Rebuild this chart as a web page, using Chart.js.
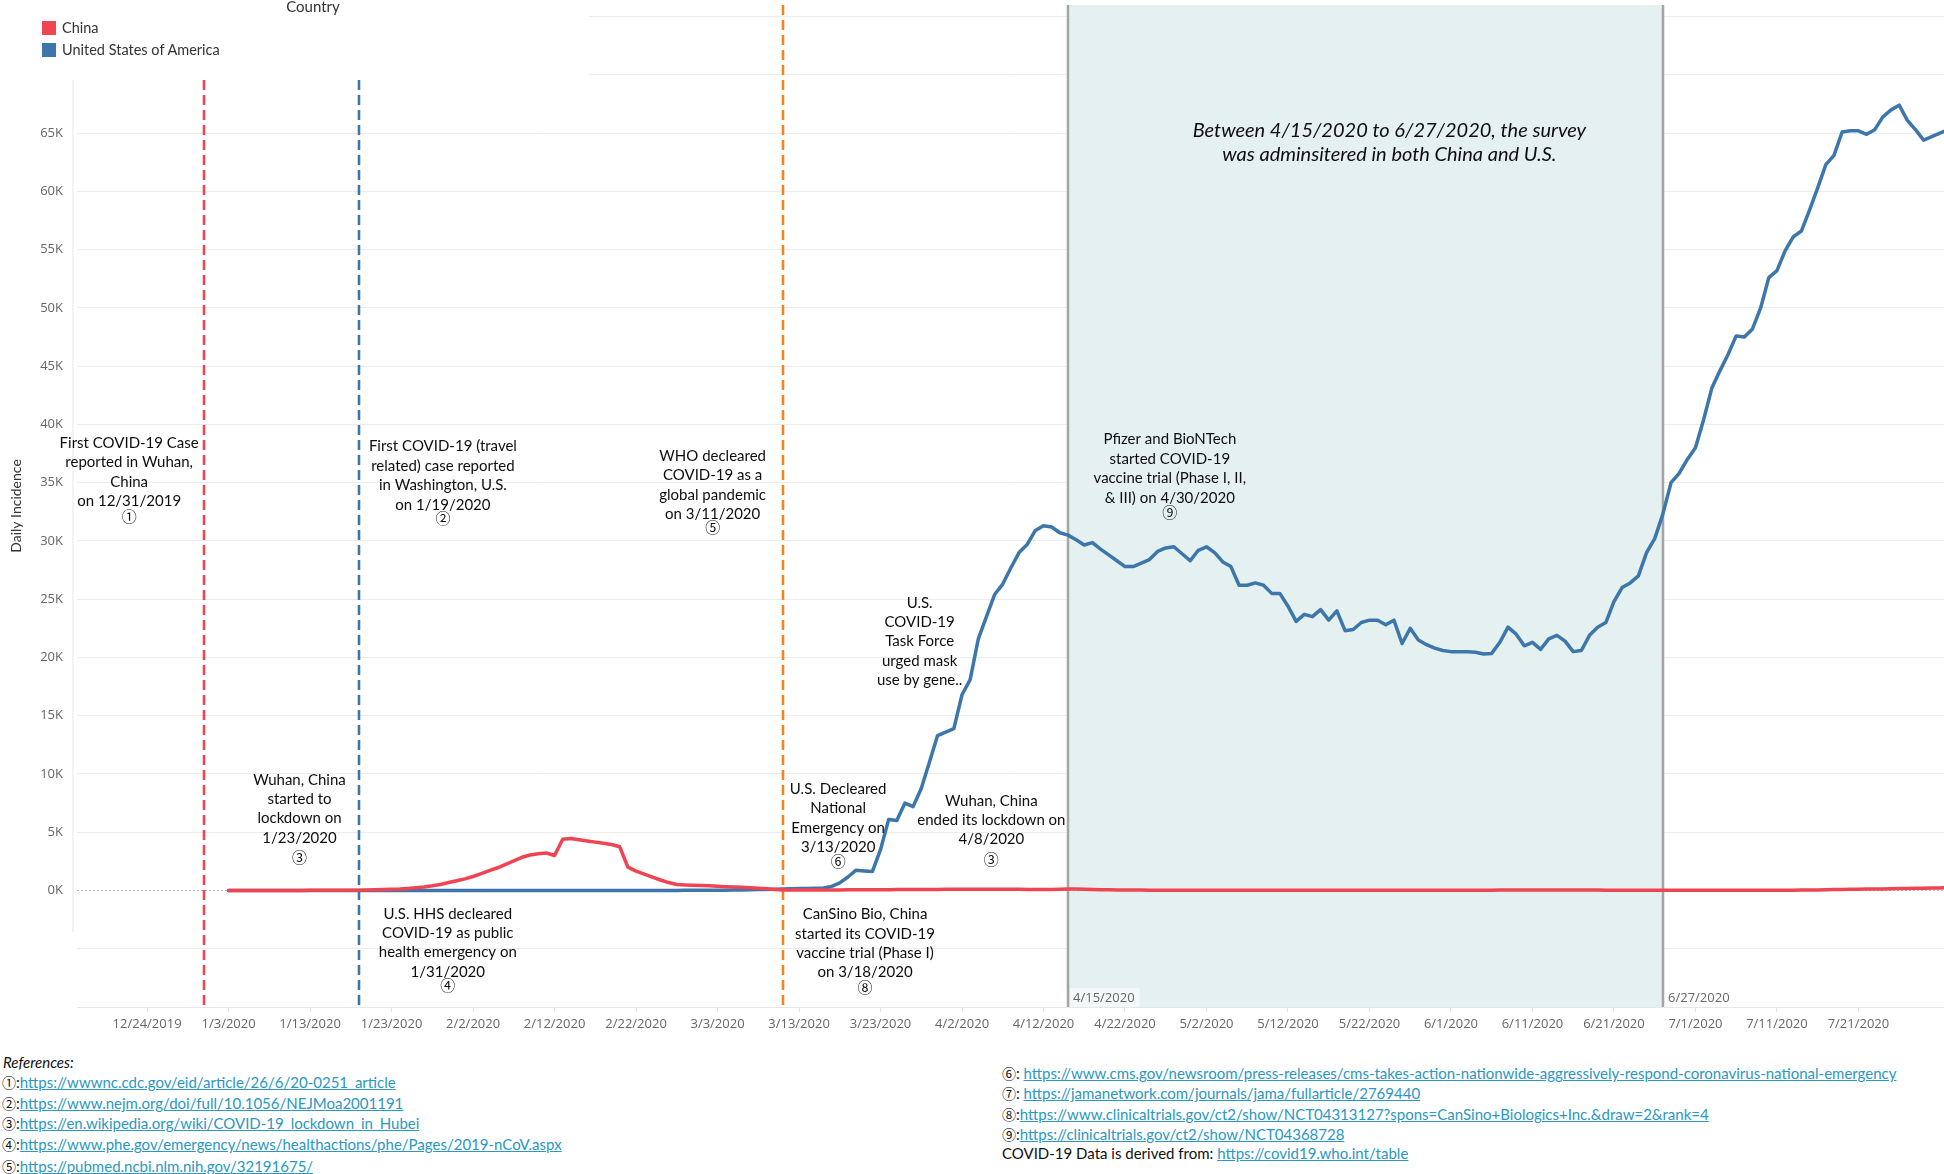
<!DOCTYPE html>
<html>
<head>
<meta charset="utf-8">
<script src="https://cdn.jsdelivr.net/npm/chart.js@4.4.1/dist/chart.umd.min.js"></script>
<style>
  html, body { margin: 0; padding: 0; background: #fff; }
  body { width: 1944px; height: 1174px; position: relative; overflow: hidden; font-family: Lato, "Liberation Sans", sans-serif; }
  #wrap { position: absolute; left: 0; top: 0; width: 1944px; height: 1045px; }
  #legend { position: absolute; left: 0; top: 0; width: 589px; height: 80px; background: #fff; color: #333; }
  #legend .title { position: absolute; left: 0; width: 626px; top: -3px; text-align: center; font-size: 15px; }
  #legend .item { position: absolute; left: 42px; height: 22px; line-height: 22px; font-size: 14.5px; }
  #legend .swatch { display: inline-block; width: 14px; height: 14px; vertical-align: -2px; margin-right: 6px; }
  .ref { position: absolute; height: 20px; line-height: 20px; font-size: 15px; color: #111; white-space: nowrap; }
  .ref u { color: #2b97c2; }
  .ref .num { font-family: "Noto Sans CJK JP"; font-size: 14px; }
</style>
</head>
<body>
<div id="wrap"><canvas id="incidenceChart" width="1944" height="1045"></canvas></div>
<div id="legend"><div class="title">Country</div></div>
<div id="refs"></div>
<script>
// dates are m/d/yyyy, day 0 of the x axis is AXIS_START
const AXIS_START = '12/24/2019';
const START_DATE = '1/3/2020';   // first daily value in both series
const TICK_LABELS = ['12/24/2019', '1/3/2020', '1/13/2020', '1/23/2020', '2/2/2020', '2/12/2020',
    '2/22/2020', '3/3/2020', '3/13/2020', '3/23/2020', '4/2/2020', '4/12/2020', '4/22/2020',
    '5/2/2020', '5/12/2020', '5/22/2020', '6/1/2020', '6/11/2020', '6/21/2020', '7/1/2020',
    '7/11/2020', '7/21/2020'];
const SERIES_NAMES = ['China', 'United States of America'];

// daily incidence, thousands of cases, one value per day from START_DATE
const CHINA_CASES_K = [
    0, 0, 0, 0, 0, 0, 0, 0, 0, 0,
    0.01, 0.01, 0.01, 0.02, 0.02, 0.03, 0.03, 0.04, 0.06, 0.08,
    0.1, 0.13, 0.18, 0.24, 0.3, 0.4, 0.52, 0.68, 0.84, 1.0,
    1.2, 1.45, 1.7, 1.95, 2.25, 2.55, 2.85, 3.05, 3.15, 3.22,
    3.0, 4.4, 4.46, 4.35, 4.25, 4.15, 4.05, 3.95, 3.75, 2.0,
    1.66, 1.4, 1.15, 0.9, 0.68, 0.51, 0.48, 0.45, 0.43, 0.4,
    0.36, 0.33, 0.3, 0.27, 0.23, 0.19, 0.14, 0.09, 0.05, 0.04,
    0.04, 0.04, 0.04, 0.05, 0.05, 0.05, 0.06, 0.06, 0.06, 0.07,
    0.07, 0.07, 0.08, 0.08, 0.08, 0.09, 0.09, 0.09, 0.1, 0.1,
    0.1, 0.1, 0.1, 0.1, 0.11, 0.11, 0.1, 0.1, 0.09, 0.09,
    0.09, 0.08, 0.1, 0.13, 0.12, 0.1, 0.08, 0.07, 0.06, 0.05,
    0.05, 0.04, 0.04, 0.03, 0.03, 0.03, 0.02, 0.02, 0.02, 0.02,
    0.02, 0.02, 0.02, 0.01, 0.01, 0.01, 0.01, 0.01, 0.01, 0.01,
    0.01, 0.01, 0.01, 0.01, 0.01, 0.01, 0.01, 0.01, 0.01, 0.01,
    0.01, 0.01, 0.01, 0.01, 0.01, 0.01, 0.01, 0.02, 0.02, 0.02,
    0.02, 0.02, 0.02, 0.03, 0.03, 0.03, 0.04, 0.04, 0.04, 0.04,
    0.04, 0.04, 0.04, 0.04, 0.04, 0.04, 0.04, 0.04, 0.04, 0.03,
    0.03, 0.03, 0.03, 0.03, 0.03, 0.03, 0.02, 0.02, 0.02, 0.02,
    0.02, 0.02, 0.02, 0.02, 0.02, 0.02, 0.02, 0.02, 0.02, 0.03,
    0.02, 0.03, 0.03, 0.04, 0.05, 0.05, 0.06, 0.08, 0.09, 0.1,
    0.1, 0.12, 0.13, 0.13, 0.15, 0.16, 0.18, 0.19, 0.2, 0.21,
    0.22, 0.23];
const US_CASES_K = [
    0, 0, 0, 0, 0, 0, 0, 0, 0, 0,
    0, 0, 0, 0, 0, 0, 0, 0, 0, 0,
    0, 0, 0, 0, 0, 0, 0, 0, 0, 0,
    0, 0, 0, 0, 0, 0, 0, 0, 0, 0,
    0, 0, 0, 0, 0, 0, 0, 0, 0, 0,
    0, 0, 0, 0, 0, 0, 0.01, 0.01, 0.01, 0.02,
    0.02, 0.03, 0.04, 0.05, 0.06, 0.08, 0.09, 0.1, 0.12, 0.14,
    0.16, 0.18, 0.2, 0.22, 0.35, 0.65, 1.16, 1.74, 1.68, 1.62,
    3.5, 6.1, 6.0, 7.5, 7.2, 8.75, 11.0, 13.3, 13.6, 13.9,
    16.8, 18.1, 21.6, 23.5, 25.4, 26.3, 27.7, 29.0, 29.7, 30.9,
    31.3, 31.2, 30.7, 30.5, 30.1, 29.65, 29.86, 29.3, 28.8, 28.3,
    27.8, 27.8, 28.1, 28.4, 29.1, 29.4, 29.5, 28.9, 28.3, 29.2,
    29.5, 29.0, 28.2, 27.8, 26.2, 26.2, 26.4, 26.2, 25.5, 25.5,
    24.4, 23.1, 23.7, 23.5, 24.1, 23.2, 24.0, 22.3, 22.4, 23.0,
    23.2, 23.2, 22.8, 23.2, 21.2, 22.5, 21.5, 21.1, 20.8, 20.6,
    20.5, 20.5, 20.5, 20.45, 20.3, 20.35, 21.3, 22.6, 22.0, 21.0,
    21.3, 20.7, 21.6, 21.9, 21.4, 20.5, 20.6, 21.9, 22.6, 23.0,
    24.8, 26.0, 26.4, 27.0, 29.0, 30.2, 32.3, 35.0, 35.8, 37.0,
    38.0, 40.4, 43.1, 44.6, 46.0, 47.6, 47.5, 48.2, 50.0, 52.6,
    53.2, 54.9, 56.1, 56.6, 58.4, 60.3, 62.3, 63.1, 65.1, 65.2,
    65.2, 64.9, 65.3, 66.4, 67.0, 67.4, 66.1, 65.3, 64.4, 64.7,
    65.0, 65.3];

const EVENT_DATES = ['12/31/2019', '1/19/2020', '3/11/2020'];
const SURVEY_RANGE = ['4/15/2020', '6/27/2020'];

const REFS_LEFT = [
    ['①', ':', 'https://wwwnc.cdc.gov/eid/article/26/6/20-0251_article'],
    ['②', ':', 'https://www.nejm.org/doi/full/10.1056/NEJMoa2001191'],
    ['③', ':', 'https://en.wikipedia.org/wiki/COVID-19_lockdown_in_Hubei'],
    ['④', ':', 'https://www.phe.gov/emergency/news/healthactions/phe/Pages/2019-nCoV.aspx'],
    ['⑤', ':', 'https://pubmed.ncbi.nlm.nih.gov/32191675/']];
const REFS_RIGHT = [
    ['⑥', ': ', 'https://www.cms.gov/newsroom/press-releases/cms-takes-action-nationwide-aggressively-respond-coronavirus-national-emergency'],
    ['⑦', ': ', 'https://jamanetwork.com/journals/jama/fullarticle/2769440'],
    ['⑧', ':', 'https://www.clinicaltrials.gov/ct2/show/NCT04313127?spons=CanSino+Biologics+Inc.&draw=2&rank=4'],
    ['⑨', ':', 'https://clinicaltrials.gov/ct2/show/NCT04368728'],
    ['', 'COVID-19 Data is derived from: ', 'https://covid19.who.int/table']];

// text notes, placed at (day on x axis, thousands on y axis) of their first line
const NOTES = [
    {lines: ['First COVID-19 Case', 'reported in Wuhan,', 'China', 'on 12/31/2019'], ref: '①', x: -2.2, y: 38.4, gap: 15.5},
    {lines: ['First COVID-19 (travel', 'related) case reported', 'in Washington, U.S.', 'on 1/19/2020'], ref: '②', x: 36.3, y: 38.1, gap: 14},
    {lines: ['WHO decleared', 'COVID-19 as a', 'global pandemic', 'on 3/11/2020'], ref: '⑤', x: 69.4, y: 37.3, gap: 13},
    {lines: ['Wuhan, China', 'started to', 'lockdown on', '1/23/2020'], ref: '③', x: 18.7, y: 9.5, gap: 19},
    {lines: ['U.S. HHS decleared', 'COVID-19 as public', 'health emergency on', '1/31/2020'], ref: '④', x: 36.9, y: -2.0, gap: 13.5},
    {lines: ['U.S. Decleared', 'National', 'Emergency on', '3/13/2020'], ref: '⑥', x: 84.8, y: 8.7, gap: 13.5},
    {lines: ['CanSino Bio, China', 'started its COVID-19', 'vaccine trial (Phase I)', 'on 3/18/2020'], ref: '⑧', x: 88.1, y: -2.05, gap: 14.5},
    {lines: ['Wuhan, China', 'ended its lockdown on', '4/8/2020'], ref: '③', x: 103.6, y: 7.7, gap: 19.8},
    {lines: ['U.S.', 'COVID-19', 'Task Force', 'urged mask', 'use by gene..'], ref: '', x: 94.8, y: 24.7, gap: 0},
    {lines: ['Pfizer and BioNTech', 'started COVID-19', 'vaccine trial (Phase I, II,', '& III) on 4/30/2020'], ref: '⑨', x: 125.5, y: 38.7, gap: 14.2}
];
const SURVEY_NOTE = ['Between 4/15/2020 to 6/27/2020, the survey', 'was adminsitered in both China and U.S.'];

const COLORS = ['#ef4452', '#3c76ab'];
const EVENT_COLORS = ['#ef4452', '#3c76ab', '#f5841f'];

function dayOf(str) {
    const [m, d, y] = str.split('/').map(Number);
    const [m0, d0, y0] = AXIS_START.split('/').map(Number);
    return Math.round((Date.UTC(y, m - 1, d) - Date.UTC(y0, m0 - 1, d0)) / 864e5);
}

function toPoints(values) {
    const first = dayOf(START_DATE);
    return values.map((v, i) => ({x: first + i, y: v}));
}

const eventLayer = {
    id: 'eventLayer',
    beforeDraw(chart) {
        const {ctx, chartArea: a, scales: {x}} = chart;
        const x0 = x.getPixelForValue(dayOf(SURVEY_RANGE[0]));
        const x1 = x.getPixelForValue(dayOf(SURVEY_RANGE[1]));
        ctx.save();
        ctx.fillStyle = '#e5f1f1';
        ctx.fillRect(x0, a.top, x1 - x0, a.bottom - a.top);
        ctx.restore();
    },
    beforeDatasetsDraw(chart) {
        const {ctx, chartArea: a, scales: {x, y}} = chart;
        ctx.save();
        // zero line
        const y0 = y.getPixelForValue(0);
        ctx.strokeStyle = '#b5b5b5';
        ctx.lineWidth = 1;
        ctx.setLineDash([2, 2]);
        ctx.beginPath();
        ctx.moveTo(a.left, y0);
        ctx.lineTo(a.right, y0);
        ctx.stroke();
        // y axis line
        ctx.setLineDash([]);
        ctx.strokeStyle = '#e6e6e6';
        ctx.beginPath();
        ctx.moveTo(a.left - 4, a.top);
        ctx.lineTo(a.left - 4, y.getPixelForValue(-3.6));
        ctx.stroke();
        // event reference lines
        ctx.lineWidth = 2.6;
        ctx.setLineDash([10, 5]);
        EVENT_DATES.forEach((d, i) => {
            const px = Math.round(x.getPixelForValue(dayOf(d)));
            ctx.strokeStyle = EVENT_COLORS[i];
            ctx.beginPath();
            ctx.moveTo(px, a.top);
            ctx.lineTo(px, a.bottom + 3);
            ctx.stroke();
        });
        // survey period edges and their labels
        ctx.setLineDash([]);
        ctx.lineWidth = 2.5;
        ctx.strokeStyle = '#a5a5a5';
        ctx.font = '13px "Open Sans"';
        ctx.textBaseline = 'middle';
        SURVEY_RANGE.forEach(d => {
            const px = Math.round(x.getPixelForValue(dayOf(d)));
            ctx.beginPath();
            ctx.moveTo(px, a.top);
            ctx.lineTo(px, a.bottom);
            ctx.stroke();
            const w = ctx.measureText(d).width;
            ctx.fillStyle = 'rgba(255,255,255,0.55)';
            ctx.fillRect(px + 2, a.bottom - 19, w + 8, 19);
            ctx.fillStyle = '#666';
            ctx.fillText(d, px + 5, a.bottom - 9);
        });
        ctx.restore();
    },
    afterDatasetsDraw(chart) {
        const {ctx, scales: {x, y}} = chart;
        const lineH = 19.4;
        ctx.save();
        ctx.textAlign = 'center';
        ctx.textBaseline = 'middle';
        ctx.fillStyle = '#0d0d0d';
        NOTES.forEach(n => {
            const cx = x.getPixelForValue(n.x);
            const top = y.getPixelForValue(n.y);
            ctx.font = '15px Lato';
            n.lines.forEach((t, i) => ctx.fillText(t, cx, top + i * lineH));
            if (n.ref) {
                ctx.font = '15px "Noto Sans CJK JP"';
                ctx.fillText(n.ref, cx, top + (n.lines.length - 1) * lineH + n.gap);
            }
        });
        // survey note inside the shaded period
        const sx = (x.getPixelForValue(dayOf(SURVEY_RANGE[0])) + x.getPixelForValue(dayOf(SURVEY_RANGE[1]))) / 2;
        ctx.font = 'italic 20px Lato';
        SURVEY_NOTE.forEach((t, i) => ctx.fillText(t, sx + 24, y.getPixelForValue(65.26) + i * 24.3));
        ctx.restore();
    }
};

const yTicks = [];
for (let v = -5; v <= 75; v += 5) yTicks.push(v);

new Chart(document.getElementById('incidenceChart'), {
    type: 'line',
    data: {
        datasets: [
            {label: SERIES_NAMES[0], data: toPoints(CHINA_CASES_K), borderColor: COLORS[0]},
            {label: SERIES_NAMES[1], data: toPoints(US_CASES_K), borderColor: COLORS[1]}
        ]
    },
    options: {
        responsive: false,
        animation: false,
        devicePixelRatio: 1,
        layout: {padding: {top: 5, left: 0, right: 0, bottom: 0}},
        elements: {
            point: {radius: 0},
            line: {borderWidth: 3.5, tension: 0, borderJoinStyle: 'round', borderCapStyle: 'round', fill: false}
        },
        plugins: {legend: {display: false}, tooltip: {enabled: false}},
        scales: {
            x: {
                type: 'linear',
                min: -8.6,
                max: 220.5,
                afterBuildTicks: s => { s.ticks = TICK_LABELS.map(t => ({value: dayOf(t)})); },
                afterFit: s => { s.height = 38; s.paddingLeft = 0; s.paddingRight = 0; },
                grid: {drawOnChartArea: false, drawTicks: true, tickLength: 5, tickColor: '#e6e6e6'},
                border: {display: true, color: '#e6e6e6'},
                ticks: {
                    autoSkip: false,
                    maxRotation: 0,
                    padding: 4,
                    color: '#666',
                    font: {family: 'Open Sans', size: 13},
                    callback: (v, i) => TICK_LABELS[i]
                }
            },
            y: {
                min: -10,
                max: 76,
                afterBuildTicks: s => { s.ticks = yTicks.map(v => ({value: v})); },
                afterFit: s => { s.width = 77; s.paddingTop = 0; s.paddingBottom = 0; },
                grid: {color: c => (c.tick && c.tick.value === 0) ? 'rgba(0,0,0,0)' : '#ececec', drawTicks: false},
                border: {display: false},
                ticks: {
                    padding: 14,
                    color: '#666',
                    font: {family: 'Open Sans', size: 13},
                    callback: v => (v >= 0 && v <= 65) ? v + 'K' : ''
                },
                title: {
                    display: true,
                    text: 'Daily Incidence',
                    color: '#333',
                    font: {family: 'Lato', size: 14},
                    padding: {top: 8, bottom: 0}
                }
            }
        }
    },
    plugins: [eventLayer]
});

// legend
const legend = document.getElementById('legend');
SERIES_NAMES.forEach((name, i) => {
    const item = document.createElement('div');
    item.className = 'item';
    item.style.top = (17 + i * 22) + 'px';
    const sw = document.createElement('span');
    sw.className = 'swatch';
    sw.style.background = COLORS[i];
    item.appendChild(sw);
    item.appendChild(document.createTextNode(name));
    legend.appendChild(item);
});

// references
const refs = document.getElementById('refs');
function addRef(left, top, num, prefix, url, italic) {
    const div = document.createElement('div');
    div.className = 'ref';
    div.style.left = left + 'px';
    div.style.top = top + 'px';
    if (italic) {
        const i = document.createElement('i');
        i.textContent = prefix;
        div.appendChild(i);
    } else {
        if (num) {
            const s = document.createElement('span');
            s.className = 'num';
            s.textContent = num;
            div.appendChild(s);
        }
        div.appendChild(document.createTextNode(prefix));
        const u = document.createElement('u');
        u.textContent = url;
        div.appendChild(u);
    }
    refs.appendChild(div);
}
addRef(3, 1052, '', 'References:', '', true);
const leftTops = [1072, 1093, 1113, 1134, 1156];
REFS_LEFT.forEach((r, i) => addRef(2, leftTops[i], r[0], r[1], r[2]));
const rightTops = [1063, 1083, 1104, 1124, 1143];
REFS_RIGHT.forEach((r, i) => addRef(1002, rightTops[i], r[0], r[1], r[2]));
</script>
</body>
</html>
